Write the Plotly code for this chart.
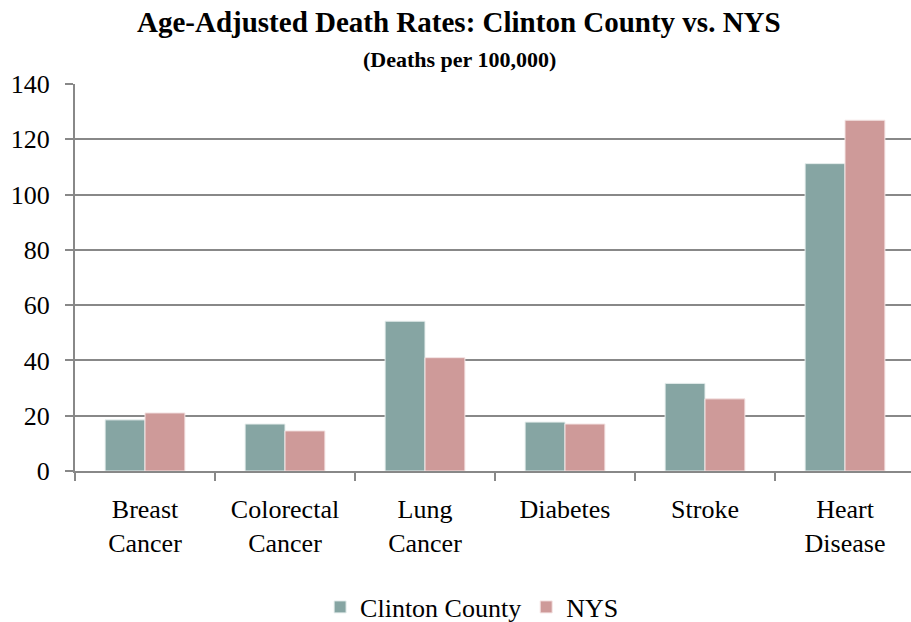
import plotly.graph_objects as go

categories = ["Breast<br>Cancer", "Colorectal<br>Cancer", "Lung<br>Cancer", "Diabetes", "Stroke", "Heart<br>Disease"]
clinton = [18.5, 17.0, 54.2, 17.7, 31.7, 111.2]
nys = [21.0, 14.5, 41.0, 17.0, 26.1, 126.9]
y_ticks = [0, 20, 40, 60, 80, 100, 120, 140]

FONT = "Liberation Serif"
GRID = "#888888"

fig = go.Figure()
fig.add_trace(go.Bar(x=categories, y=clinton, name="Clinton County",
                     marker=dict(color="#86A5A3", line=dict(color="#E8EFEE", width=1))))
fig.add_trace(go.Bar(x=categories, y=nys, name="NYS",
                     marker=dict(color="#CE9A99", line=dict(color="#F4E4E4", width=1))))

# plot area spans pixels y 84..471, x 75..911
def py(p):
    return (471 - p) / (471 - 84)

fig.update_layout(
    width=911, height=622,
    margin=dict(l=75, r=0, t=84, b=151, autoexpand=False),
    paper_bgcolor="white", plot_bgcolor="white",
    font=dict(family=FONT, color="black", size=26),
    barmode="group", bargap=0.43, bargroupgap=0,
    showlegend=True,
    legend=dict(orientation="h", x=0.475, xanchor="center", y=py(607), yanchor="middle",
                font=dict(size=26, family=FONT), itemwidth=30, tracegroupgap=0,
                bgcolor="rgba(0,0,0,0)"),
    xaxis=dict(range=[-0.5, 5.5 - 4 / 140], showline=True, linecolor=GRID, linewidth=2,
               ticks="outside", tickson="boundaries", ticklen=8, tickcolor=GRID, tickwidth=2,
               showgrid=False, tickfont=dict(size=26, family=FONT), ticklabelstandoff=14),
    yaxis=dict(range=[0, 140], tickvals=y_ticks, showline=True, linecolor=GRID, linewidth=2,
               ticks="outside", ticklen=8, tickcolor=GRID, tickwidth=2,
               showgrid=True, gridcolor=GRID, gridwidth=2, zeroline=False,
               tickfont=dict(size=26, family=FONT), ticklabelstandoff=10),
    annotations=[
        dict(text="<b>Age-Adjusted Death Rates: Clinton County vs. NYS</b>", xref="paper", yref="paper",
             x=(459 - 75) / 836, y=py(22), xanchor="center", yanchor="middle", showarrow=False,
             font=dict(size=29, family=FONT)),
        dict(text="<b>(Deaths per 100,000)</b>", xref="paper", yref="paper",
             x=(459 - 75) / 836, y=py(60), xanchor="center", yanchor="middle", showarrow=False,
             font=dict(size=22, family=FONT)),
    ],
)

fig.write_html("out.html")
